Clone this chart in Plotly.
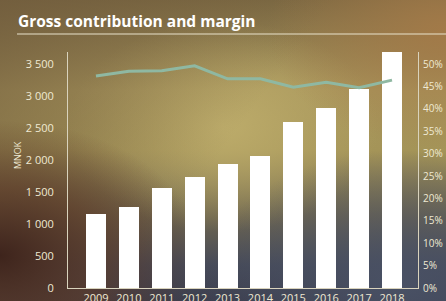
import base64
import plotly.graph_objects as go

years = ["2009", "2010", "2011", "2012", "2013", "2014", "2015", "2016", "2017", "2018"]
gross_contribution = [1150, 1270, 1560, 1730, 1930, 2070, 2590, 2810, 3110, 3680]
margin_pct = [47.3, 48.4, 48.5, 49.6, 46.7, 46.7, 44.8, 45.9, 44.7, 46.4]
left_ticks = [0, 500, 1000, 1500, 2000, 2500, 3000, 3500]
right_ticks = [0, 5, 10, 15, 20, 25, 30, 35, 40, 45, 50]
right_labels = [f"{v}%" for v in right_ticks]

W, H = 446, 301
L, R, T, B = 68, 28, 52, 13
pw, ph = W - L - R, H - T - B

svg = f'''<svg xmlns="http://www.w3.org/2000/svg" width="{W}" height="{H}" viewBox="0 0 {W} {H}" preserveAspectRatio="none">
<defs>
<linearGradient id="v" x1="0" y1="0" x2="0" y2="1">
<stop offset="0" stop-color="#7c6943"/>
<stop offset="0.3" stop-color="#a8965c"/>
<stop offset="0.5" stop-color="#a49458"/>
<stop offset="0.72" stop-color="#6e6650"/>
<stop offset="0.88" stop-color="#464a58"/>
<stop offset="1" stop-color="#3c3f4f"/>
</linearGradient>
<radialGradient id="c" cx="0.5" cy="0.42" r="0.35">
<stop offset="0" stop-color="#bfae6c" stop-opacity="0.9"/>
<stop offset="1" stop-color="#bfae6c" stop-opacity="0"/>
</radialGradient>
<radialGradient id="bl" cx="0.0" cy="0.85" r="0.45">
<stop offset="0" stop-color="#3e241c" stop-opacity="1"/>
<stop offset="0.5" stop-color="#5a3826" stop-opacity="0.7"/>
<stop offset="1" stop-color="#5a3826" stop-opacity="0"/>
</radialGradient>
<radialGradient id="tr" cx="1.0" cy="0.1" r="0.4">
<stop offset="0" stop-color="#a57a48" stop-opacity="0.9"/>
<stop offset="1" stop-color="#a57a48" stop-opacity="0"/>
</radialGradient>
<radialGradient id="br" cx="0.9" cy="0.95" r="0.45">
<stop offset="0" stop-color="#4a5266" stop-opacity="0.9"/>
<stop offset="1" stop-color="#4a5266" stop-opacity="0"/>
</radialGradient>
<linearGradient id="tl" x1="0" y1="0" x2="0.6" y2="0.3">
<stop offset="0" stop-color="#6f5a3c" stop-opacity="0.7"/>
<stop offset="1" stop-color="#6f5a3c" stop-opacity="0"/>
</linearGradient>
</defs>
<rect width="{W}" height="{H}" fill="url(#v)"/>
<rect width="{W}" height="{H}" fill="url(#c)"/>
<rect width="{W}" height="{H}" fill="url(#tl)"/>
<rect width="{W}" height="{H}" fill="url(#tr)"/>
<rect width="{W}" height="{H}" fill="url(#bl)"/>
<rect width="{W}" height="{H}" fill="url(#br)"/>
</svg>'''
bg_uri = "data:image/svg+xml;base64," + base64.b64encode(svg.encode()).decode()

xpos = list(range(len(years)))
txt = "#efe9d3"
line_col = "#d9d3bd"

fig = go.Figure()
fig.add_trace(go.Bar(
    x=xpos, y=gross_contribution, marker=dict(color="#ffffff", line=dict(width=0)),
    width=0.61, showlegend=False, hoverinfo="skip",
))
fig.add_trace(go.Scatter(
    x=xpos, y=margin_pct, yaxis="y2", mode="lines",
    line=dict(color="#8fb8a2", width=3), showlegend=False, hoverinfo="skip",
))

ymax = 3500 * ph / 224
fig.update_layout(
    width=W, height=H,
    margin=dict(l=L, r=R, t=T, b=B, autoexpand=False),
    paper_bgcolor="#8a7a4a", plot_bgcolor="rgba(0,0,0,0)",
    separators=". ",
    font=dict(family="Open Sans", color=txt, size=11),
    bargap=0,
    xaxis=dict(
        range=[-0.85, 9.79], tickmode="array", tickvals=xpos, ticktext=years,
        showline=True, linecolor=line_col, linewidth=1, showgrid=False,
        zeroline=False, ticks="", tickfont=dict(size=11, color=txt), automargin=False,
    ),
    yaxis=dict(
        range=[0, ymax], tickmode="array", tickvals=left_ticks, tickformat=",d",
        showline=True, linecolor=line_col, linewidth=1, showgrid=False,
        zeroline=False, ticks="outside", ticklen=11, tickcolor="rgba(0,0,0,0)",
        tickfont=dict(size=11, color=txt), automargin=False,
    ),
    yaxis2=dict(
        overlaying="y", side="right", range=[0, ymax / 70], tickmode="array",
        tickvals=right_ticks, ticktext=right_labels,
        showline=True, linecolor=line_col, linewidth=1, showgrid=False,
        zeroline=False, ticks="outside", ticklen=2, tickcolor="rgba(0,0,0,0)",
        tickfont=dict(size=10, color=txt), automargin=False,
    ),
    images=[dict(
        source=bg_uri, xref="paper", yref="paper",
        x=-L / pw, y=(ph + T) / ph, sizex=W / pw, sizey=H / ph,
        xanchor="left", yanchor="top", sizing="stretch", layer="below",
    )],
    annotations=[
        dict(text="<b>Gross contribution and margin</b>", xref="paper", yref="paper",
             x=-(L - 16) / pw, y=(ph + T - 21) / ph, xanchor="left", yanchor="middle",
             showarrow=False, font=dict(size=15.5, color="#ffffff", family="Open Sans")),
        dict(text="MNOK", xref="paper", yref="paper", textangle=-90,
             x=-(L - 17) / pw, y=(288 - 155) / ph, xanchor="center", yanchor="middle",
             showarrow=False, font=dict(size=9, color=txt)),
    ],
    shapes=[dict(type="line", xref="paper", yref="paper",
                 x0=-(L - 17) / pw, x1=(W - L) / pw, y0=(ph + T - 34) / ph, y1=(ph + T - 34) / ph,
                 line=dict(color="#e8e2cc", width=1))],
)

fig.write_html(
    "out.html",
    config={"displayModeBar": False},
    post_script="document.body.style.margin='0';document.body.style.overflow='hidden';",
)
